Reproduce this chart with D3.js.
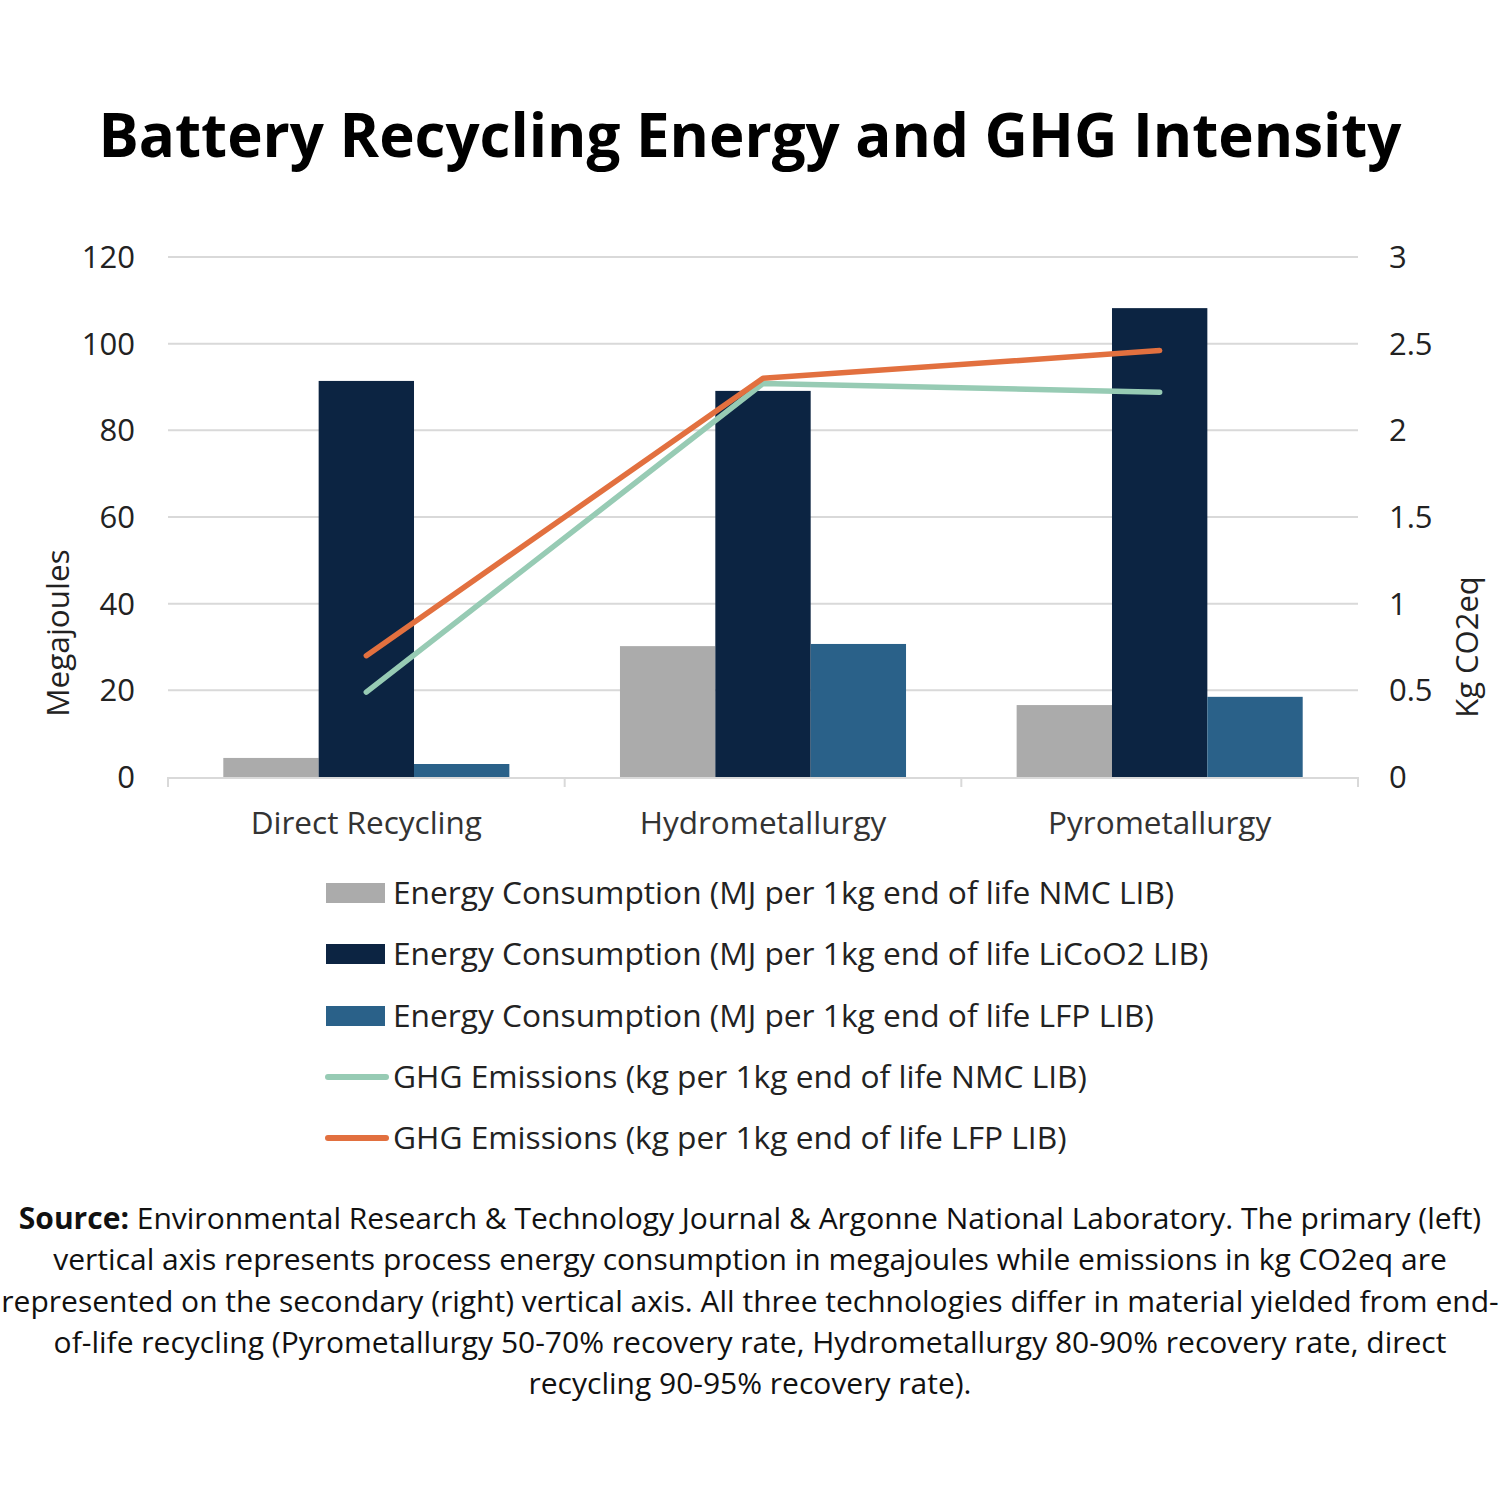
<!DOCTYPE html>
<html><head><meta charset="utf-8">
<script src="https://cdn.jsdelivr.net/npm/d3@7"></script>
<style>body{margin:0;background:#fff;} svg{display:block;font-family:"Open Sans",sans-serif;}</style>
</head><body>
<svg id="c" width="1500" height="1500"></svg>
<script>
const categories = ["Direct Recycling", "Hydrometallurgy", "Pyrometallurgy"];
const energyNMC = [4.4, 30.2, 16.6];
const energyLiCoO2 = [91.4, 89.1, 108.2];
const energyLFP = [3.0, 30.7, 18.5];
const ghgNMC = [0.49, 2.27, 2.22];
const ghgLFP = [0.70, 2.30, 2.46];
const leftTicks = [0, 20, 40, 60, 80, 100, 120];
const rightTicks = [0, 0.5, 1, 1.5, 2, 2.5, 3];
const barSeries = [
  {name: "Energy Consumption (MJ per 1kg end of life NMC LIB)", values: energyNMC, color: "#ababab"},
  {name: "Energy Consumption (MJ per 1kg end of life LiCoO2 LIB)", values: energyLiCoO2, color: "#0c2442"},
  {name: "Energy Consumption (MJ per 1kg end of life LFP LIB)", values: energyLFP, color: "#2a6189"}
];
const lineSeries = [
  {name: "GHG Emissions (kg per 1kg end of life NMC LIB)", values: ghgNMC, color: "#97cbb4"},
  {name: "GHG Emissions (kg per 1kg end of life LFP LIB)", values: ghgLFP, color: "#e2703f"}
];
const sourceLines = [
  ["Source:", " Environmental Research & Technology Journal & Argonne National Laboratory. The primary (left)"],
  ["", "vertical axis represents process energy consumption in megajoules while emissions in kg CO2eq are"],
  ["", "represented on the secondary (right) vertical axis. All three technologies differ in material yielded from end-"],
  ["", "of-life recycling (Pyrometallurgy 50-70% recovery rate, Hydrometallurgy 80-90% recovery rate, direct"],
  ["", "recycling 90-95% recovery rate)."]
];

const svg = d3.select("#c");
const L = 168, R = 1358, T = 257, B = 777;

svg.append("text").attr("x", 750).attr("y", 157).attr("text-anchor", "middle")
  .attr("font-size", 60).attr("font-weight", 700).attr("fill", "#000")
  .text("Battery Recycling Energy and GHG Intensity");

const x = d3.scaleBand().domain(categories).range([L, R]).padding(0);
const inner = d3.scaleBand().domain(d3.range(barSeries.length)).range([0, x.bandwidth()]).paddingOuter(0.58).paddingInner(0);
const yL = d3.scaleLinear().domain([0, 120]).range([B, T]);
const yR = d3.scaleLinear().domain([0, 3]).range([B, T]);

// gridlines
svg.append("g").selectAll("line").data(leftTicks.filter(d => d > 0)).join("line")
  .attr("x1", L).attr("x2", R).attr("y1", d => yL(d)).attr("y2", d => yL(d))
  .attr("stroke", "#d9d9d9").attr("stroke-width", 2);

// axis labels
svg.append("g").selectAll("text").data(leftTicks).join("text")
  .attr("x", 135).attr("y", d => yL(d)).attr("dy", "0.35em").attr("text-anchor", "end")
  .attr("font-size", 31).attr("fill", "#222").text(d => d);
svg.append("g").selectAll("text").data(rightTicks).join("text")
  .attr("x", 1389).attr("y", d => yR(d)).attr("dy", "0.35em").attr("text-anchor", "start")
  .attr("font-size", 31).attr("fill", "#222").text(d => d);

svg.append("text").attr("transform", "translate(69,633) rotate(-90)").attr("text-anchor", "middle")
  .attr("font-size", 31.5).attr("fill", "#222").text("Megajoules");
svg.append("text").attr("transform", "translate(1478,647) rotate(-90)").attr("text-anchor", "middle")
  .attr("font-size", 31).attr("fill", "#222").text("Kg CO2eq");

// bars
const gBars = svg.append("g");
barSeries.forEach((s, si) => {
  gBars.append("g").selectAll("rect").data(categories).join("rect")
    .attr("x", c => x(c) + inner(si)).attr("width", inner.bandwidth())
    .attr("y", (c, i) => yL(s.values[i])).attr("height", (c, i) => B - yL(s.values[i]))
    .attr("fill", s.color);
});

// x axis baseline + ticks
const xa = svg.append("g");
xa.append("line").attr("x1", L).attr("x2", R).attr("y1", B + 1).attr("y2", B + 1).attr("stroke", "#d9d9d9").attr("stroke-width", 2);
xa.selectAll("line.t").data([L, x(categories[1]), x(categories[2]), R]).join("line").attr("class", "t")
  .attr("x1", d => d).attr("x2", d => d).attr("y1", B).attr("y2", B + 10).attr("stroke", "#d9d9d9").attr("stroke-width", 2);
xa.selectAll("text").data(categories).join("text")
  .attr("x", c => x(c) + x.bandwidth() / 2).attr("y", 834).attr("text-anchor", "middle")
  .attr("font-size", 31.5).attr("fill", "#333").text(c => c);

// lines
const line = d3.line().x((v, i) => x(categories[i]) + x.bandwidth() / 2).y(v => yR(v));
lineSeries.forEach(s => {
  svg.append("path").datum(s.values).attr("d", line).attr("fill", "none")
    .attr("stroke", s.color).attr("stroke-width", 5.5).attr("stroke-linecap", "round").attr("stroke-linejoin", "round");
});

// legend
const lg = svg.append("g");
const rowY = [893, 954, 1016, 1077, 1138];
barSeries.forEach((s, i) => {
  lg.append("rect").attr("x", 326).attr("y", rowY[i] - 10).attr("width", 59).attr("height", 20).attr("fill", s.color);
  lg.append("text").attr("x", 393).attr("y", rowY[i]).attr("dy", "0.35em").attr("font-size", 31.7).attr("fill", "#222").text(s.name);
});
lineSeries.forEach((s, j) => {
  const i = j + 3;
  lg.append("line").attr("x1", 328).attr("x2", 386).attr("y1", rowY[i]).attr("y2", rowY[i])
    .attr("stroke", s.color).attr("stroke-width", 6).attr("stroke-linecap", "round");
  lg.append("text").attr("x", 393).attr("y", rowY[i]).attr("dy", "0.35em").attr("font-size", 31.7).attr("fill", "#222").text(s.name);
});

// source
const src = svg.append("g");
sourceLines.forEach((ln, i) => {
  const t = src.append("text").attr("x", 750).attr("y", 1229 + i * 41.3).attr("text-anchor", "middle")
    .attr("font-size", 30).attr("fill", "#111");
  if (ln[0]) t.append("tspan").attr("font-weight", 700).text(ln[0]);
  t.append("tspan").text(ln[1]);
});
</script>
</body></html>
